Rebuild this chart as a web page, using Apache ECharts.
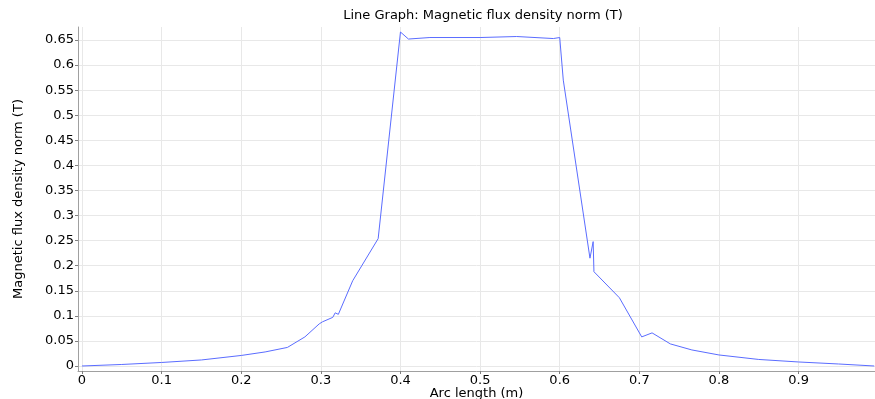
<!DOCTYPE html>
<html><head><meta charset="utf-8">
<script src="https://cdn.jsdelivr.net/npm/echarts@6/dist/echarts.min.js"></script>
<style>html,body{margin:0;padding:0;background:#fff}#c{width:875px;height:399px}</style>
</head><body><div id="c"></div>
<script>
const arcLength = [0, 0.05, 0.1, 0.15, 0.2, 0.23, 0.258, 0.28, 0.298, 0.302, 0.315, 0.318, 0.322, 0.34, 0.372, 0.4, 0.41, 0.437, 0.5, 0.546, 0.592, 0.6, 0.6045, 0.638, 0.642, 0.643, 0.675, 0.703, 0.716, 0.739, 0.766, 0.8, 0.85, 0.9, 0.95, 0.995];
const fluxDensity = [0, 0.003, 0.007, 0.012, 0.021, 0.028, 0.037, 0.058, 0.084, 0.088, 0.097, 0.106, 0.103, 0.17, 0.254, 0.666, 0.652, 0.655, 0.655, 0.657, 0.653, 0.655, 0.57, 0.215, 0.248, 0.188, 0.136, 0.058, 0.066, 0.044, 0.032, 0.022, 0.013, 0.008, 0.004, 0.0];
const xTicks = [0, 0.1, 0.2, 0.3, 0.4, 0.5, 0.6, 0.7, 0.8, 0.9];
const yTicks = [0, 0.05, 0.1, 0.15, 0.2, 0.25, 0.3, 0.35, 0.4, 0.45, 0.5, 0.55, 0.6, 0.65];

const font = 'DejaVu Sans';
const chart = echarts.init(document.getElementById('c'), null, {renderer: 'canvas'});
const axisCommon = {
  axisLine: {show: true, onZero: false, lineStyle: {color: '#a0a0a0', width: 1}},
  axisTick: {show: true, length: 3, lineStyle: {color: '#808080'}},
  splitLine: {show: true, lineStyle: {color: '#e8e8e8', width: 1}},
  nameTextStyle: {fontFamily: font, fontSize: 13, color: '#000'},
  nameMoveOverlap: false
};
chart.setOption({
  animation: false,
  title: {text: 'Line Graph: Magnetic flux density norm (T)', left: 478, top: 4, textAlign: 'center',
    textStyle: {fontFamily: font, fontSize: 13, fontWeight: 'normal', color: '#000'}},
  grid: {left: 78, right: 0, top: 27, bottom: 28, containLabel: false, outerBoundsMode: 'none'},
  xAxis: Object.assign({}, axisCommon, {
    type: 'value', min: -0.005, max: 0.996,
    name: 'Arc length (m)', nameLocation: 'middle', nameGap: 16,
    axisTick: Object.assign({}, axisCommon.axisTick, {customValues: xTicks}),
    axisLabel: {customValues: xTicks, fontFamily: font, fontSize: 13, color: '#000', margin: 3,
      formatter: v => String(v)},
  }),
  yAxis: Object.assign({}, axisCommon, {
    type: 'value', min: -0.01, max: 0.676,
    name: 'Magnetic flux density norm (T)', nameLocation: 'middle', nameGap: 53,
    axisTick: Object.assign({}, axisCommon.axisTick, {customValues: yTicks}),
    axisLabel: {customValues: yTicks, fontFamily: font, fontSize: 13, color: '#000', margin: 4,
      formatter: v => String(v)},
  }),
  series: [{
    type: 'line', showSymbol: false, symbol: 'none',
    data: arcLength.map((x, i) => [x, fluxDensity[i]]),
    lineStyle: {color: '#5a6cff', width: 1}
  }]
});
</script></body></html>
